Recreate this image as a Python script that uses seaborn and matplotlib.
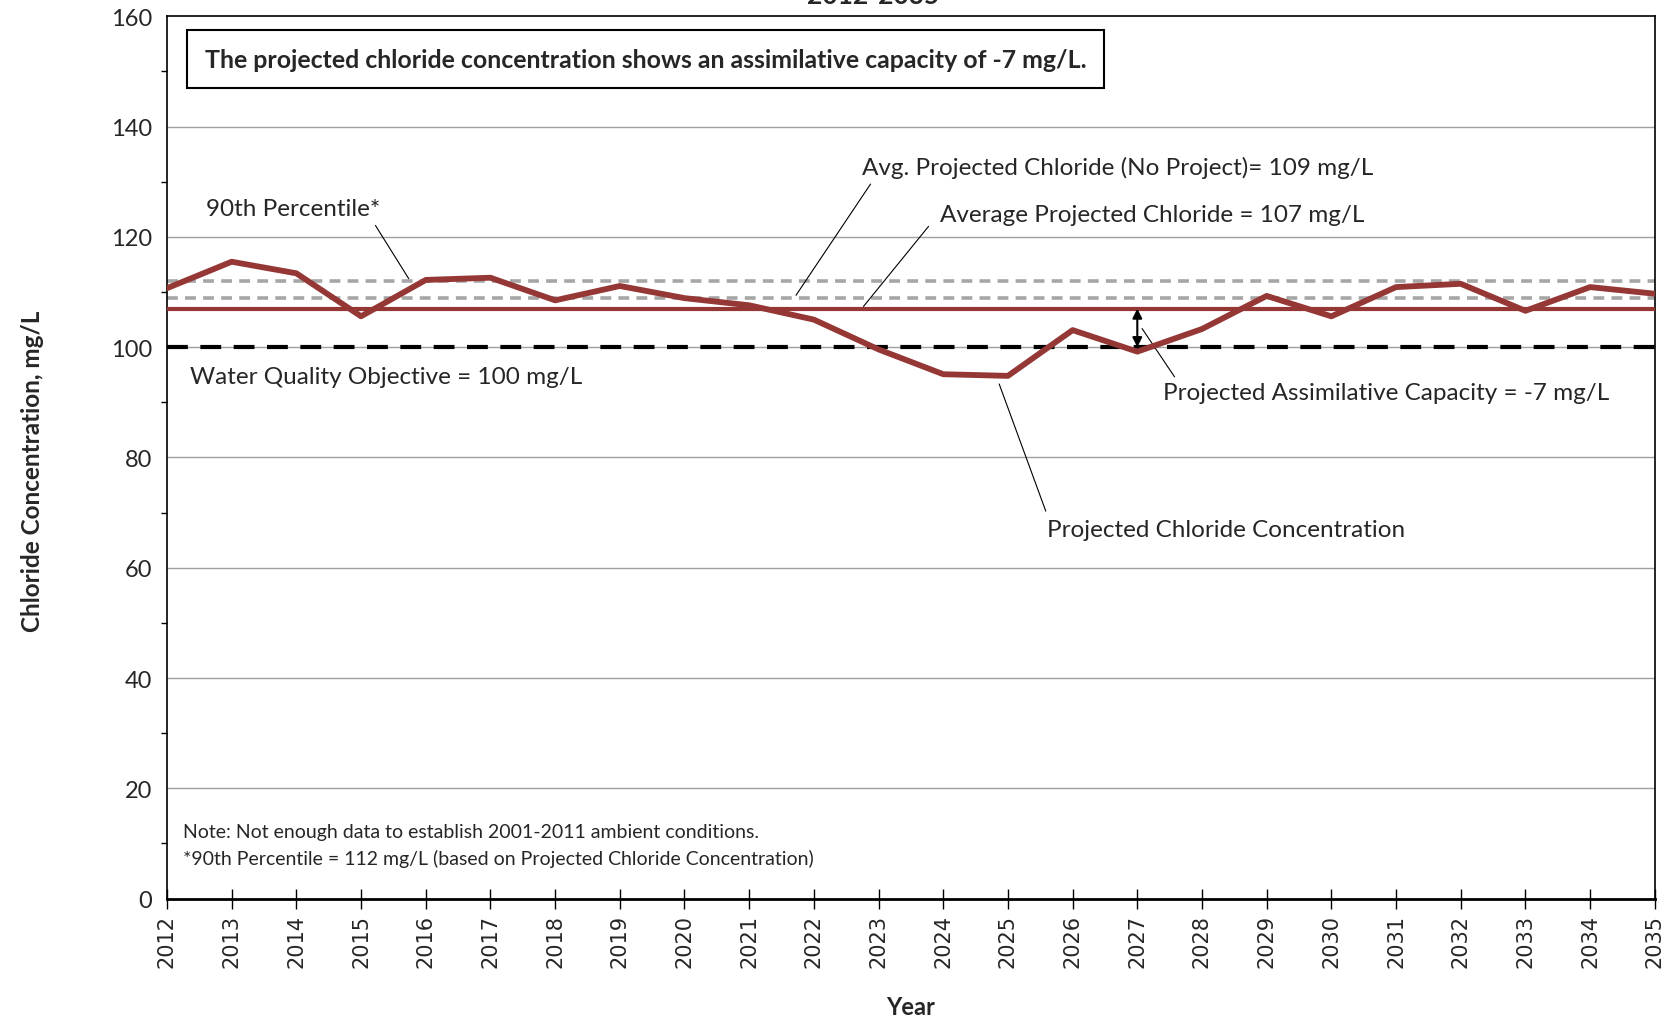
import matplotlib
matplotlib.use("Agg")
import matplotlib.pyplot as plt
import seaborn as sns
import pandas as pd

years = list(range(2012, 2036))
projected = [110.7, 115.5, 113.4, 105.6, 112.2, 112.6, 108.5, 111.1, 108.9, 107.6,
             105.0, 99.6, 95.1, 94.8, 103.1, 99.2, 103.3, 109.3, 105.6, 110.9,
             111.5, 106.6, 110.9, 109.7]
avg_projected = 107
avg_no_project = 109
pct90 = 112
wqo = 100

df = pd.DataFrame({"Year": years, "Chloride": projected})

sns.set_theme(style="white")
plt.rcParams["font.family"] = ["Lato", "DejaVu Sans"]

red = "#953735"
grey = "#a6a6a6"

fig = plt.figure(figsize=(16.8, 10.2), dpi=100)
ax = fig.add_axes([0.0994, 0.118, 0.8856, 0.865])

# grid
for y in range(20, 160, 20):
    ax.axhline(y, color="#a0a0a0", lw=1, zorder=0)

ax.axhline(pct90, color=grey, lw=2.6, ls=(0, (3, 2)), zorder=2)
ax.axhline(avg_no_project, color=grey, lw=2.6, ls=(0, (3, 2)), zorder=2)
ax.axhline(avg_projected, color=red, lw=3.0, zorder=3)
ax.axhline(wqo, color="black", lw=3.0, ls=(0, (5, 3)), zorder=3)
sns.lineplot(data=df, x="Year", y="Chloride", color=red, lw=4.2, ax=ax, zorder=4)

# assimilative capacity arrow
ax.annotate("", xy=(2027, avg_projected), xytext=(2027, wqo),
            arrowprops=dict(arrowstyle="<|-|>", color="black", lw=1.5,
                            mutation_scale=14, shrinkA=0, shrinkB=0), zorder=5)

fs = 17.5
lead = dict(arrowstyle="-", color="black", lw=0.8)
ax.text(2012.6, 125.2, "90th Percentile*", fontsize=fs, va="center")
ax.annotate("", xy=(2015.76, pct90), xytext=(2015.2, 122.5), arrowprops=lead)

ax.text(2022.74, 132.6, "Avg. Projected Chloride (No Project)= 109 mg/L", fontsize=fs, va="center")
ax.annotate("", xy=(2021.7, avg_no_project), xytext=(2022.9, 130.0), arrowprops=lead)

ax.text(2023.95, 124.1, "Average Projected Chloride = 107 mg/L", fontsize=fs, va="center")
ax.annotate("", xy=(2022.74, avg_projected), xytext=(2023.8, 122.3), arrowprops=lead)

ax.text(2025.6, 67.0, "Projected Chloride Concentration", fontsize=fs, va="center")
ax.annotate("", xy=(2024.85, 93.8), xytext=(2025.6, 69.8), arrowprops=lead)

ax.text(2027.4, 91.7, "Projected Assimilative Capacity = -7 mg/L", fontsize=fs, va="center")
ax.annotate("", xy=(2027.05, 103.8), xytext=(2027.6, 94.2), arrowprops=lead)

ax.text(2012.36, 94.6, "Water Quality Objective = 100 mg/L", fontsize=fs, va="center")

ax.text(2012.58, 152.2,
        "The projected chloride concentration shows an assimilative capacity of -7 mg/L.",
        fontsize=17.9, fontweight="bold", va="center",
        bbox=dict(boxstyle="square,pad=0.7", fc="white", ec="black", lw=1.5))

ax.text(2012.25, 12.2, "Note: Not enough data to establish 2001-2011 ambient conditions.",
        fontsize=14, va="center")
ax.text(2012.25, 7.4, "*90th Percentile = 112 mg/L (based on Projected Chloride Concentration)",
        fontsize=14, va="center")

ax.set_xlim(2012, 2035)
ax.set_ylim(0, 160)
ax.set_xticks(years)
ax.set_xticklabels([str(y) for y in years], rotation=90, fontsize=15, family="DejaVu Sans")
ax.set_yticks(range(0, 161, 20))
ax.set_yticks(range(10, 160, 20), minor=True)
ax.tick_params(axis="y", which="major", direction="out", length=7, width=1, labelsize=17, color="black")
ax.tick_params(axis="y", which="minor", direction="out", length=4, width=1, color="black", left=True)
ax.tick_params(axis="x", direction="inout", length=14, width=1, color="black", bottom=True, pad=4)

for s in ax.spines.values():
    s.set_color("black")
    s.set_linewidth(1.2)
ax.spines["bottom"].set_linewidth(2)

ax.set_xlabel("Year", fontsize=17, fontweight="bold", labelpad=20)
ax.set_ylabel("Chloride Concentration, mg/L", fontsize=17.5, fontweight="bold", labelpad=52)
ax.yaxis.set_label_coords(-0.0825, 0.485)

fig.text(0.52, 1 - 8 / 1020, "2012-2035", fontsize=19, fontweight="bold", ha="center", va="bottom")

fig.savefig("out.png", dpi=100)
